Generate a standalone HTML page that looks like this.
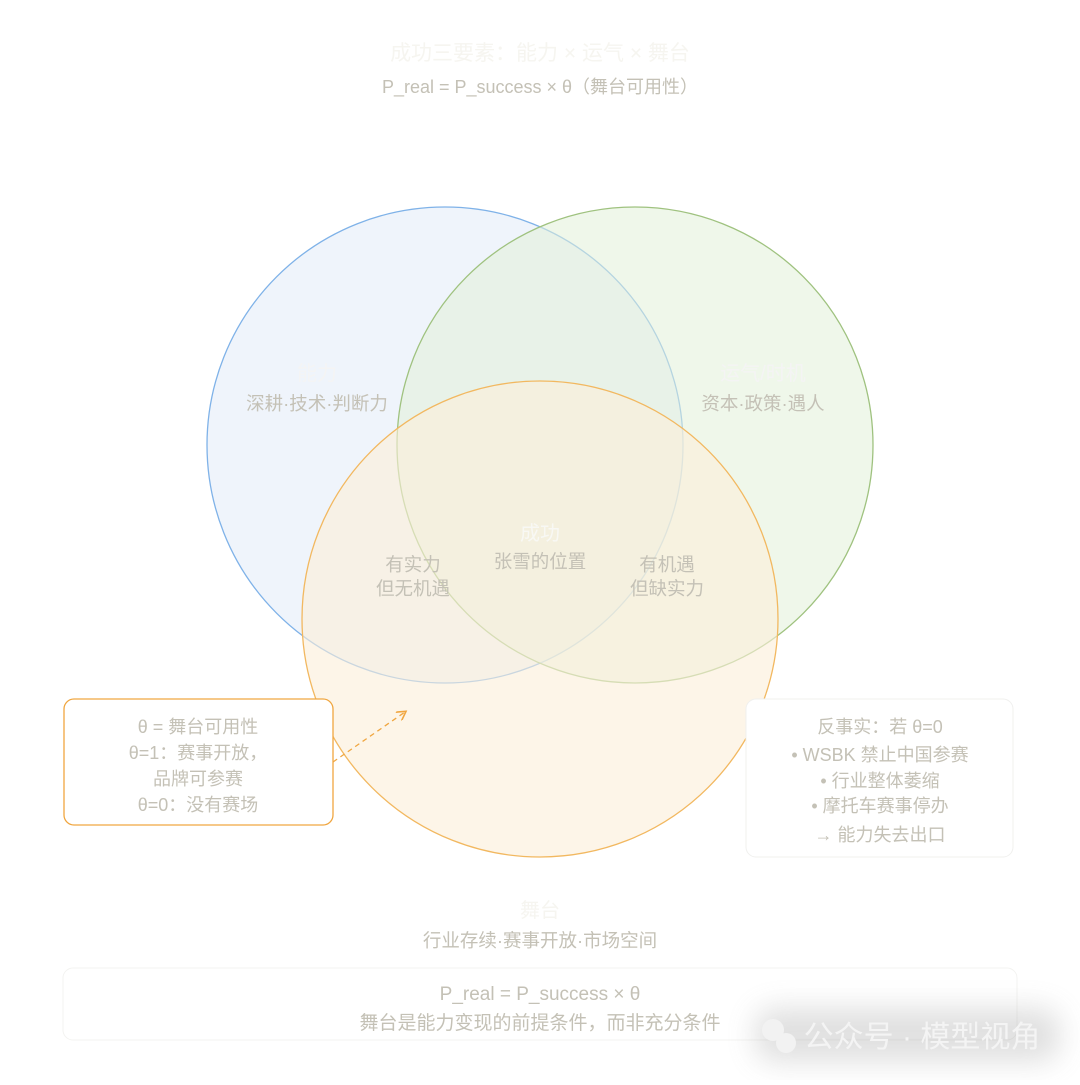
<!DOCTYPE html>
<html><head><meta charset="utf-8"><style>
body{margin:0;background:#fff;}
svg text{font-family:"Liberation Sans","Noto Sans CJK SC",sans-serif;text-anchor:middle;}
</style></head><body>
<svg width="1080" height="1080" xmlns="http://www.w3.org/2000/svg">
<defs><filter id="b" x="-30%" y="-80%" width="160%" height="260%"><feGaussianBlur stdDeviation="14"/></filter>
<marker id="a" markerWidth="8" markerHeight="8" refX="6" refY="4" orient="auto"><path d="M0,0 L7,4 L0,8" fill="none" stroke="#f0a640" stroke-width="1.2"/></marker></defs>
<rect width="1080" height="1080" fill="#fff"/>
<text x="540" y="60" font-size="21" fill="#f6f5f0">成功三要素：能力 × 运气 × 舞台</text>
<text x="540" y="93" font-size="18" fill="#c4c1b6">P_real = P_success × θ（舞台可用性）</text>
<circle cx="445" cy="445" r="238" fill="#e6eef9" fill-opacity="0.65" stroke="#7fb2e8" stroke-width="1.3"/>
<circle cx="635" cy="445" r="238" fill="#e2f0d8" fill-opacity="0.55" stroke="#9fc27f" stroke-width="1.3"/>
<circle cx="540" cy="619" r="238" fill="#fbefd8" fill-opacity="0.6" stroke="#f2b860" stroke-width="1.3"/>
<g font-size="18.5" fill="#c4c1b6">
<text x="317" y="380" font-size="20" fill="#f4f4f4">能力</text>
<text x="317" y="410">深耕·技术·判断力</text>
<text x="763" y="380" font-size="20" fill="#f4f4f4">运气/时机</text>
<text x="763" y="410">资本·政策·遇人</text>
<text x="540" y="540" font-size="20" fill="#f8f8f4">成功</text>
<text x="540" y="568">张雪的位置</text>
<text x="413" y="571">有实力</text>
<text x="413" y="595">但无机遇</text>
<text x="667" y="571">有机遇</text>
<text x="667" y="595">但缺实力</text>
<text x="540" y="917" font-size="20" fill="#f6f5f0">舞台</text>
<text x="540" y="947" font-size="18.5">行业存续·赛事开放·市场空间</text>
</g>
<rect x="64" y="699" width="269" height="126" rx="10" fill="#fff" stroke="#f0a640" stroke-width="1.3"/>
<g font-size="18" fill="#c4c1b6">
<text x="198" y="733">θ = 舞台可用性</text>
<text x="198" y="759">θ=1：赛事开放，</text>
<text x="198" y="785">品牌可参赛</text>
<text x="198" y="811">θ=0：没有赛场</text>
</g>
<line x1="333" y1="762" x2="405" y2="712" stroke="#f0a640" stroke-width="1.3" stroke-dasharray="5,4" marker-end="url(#a)"/>
<rect x="746" y="699" width="267" height="158" rx="10" fill="#fff" stroke="#f0f0ee" stroke-width="1"/>
<g font-size="18" fill="#c4c1b6">
<text x="880" y="733">反事实：若 θ=0</text>
<text x="880" y="761">• WSBK 禁止中国参赛</text>
<text x="880" y="787">• 行业整体萎缩</text>
<text x="880" y="812">• 摩托车赛事停办</text>
<text x="880" y="841">→ 能力失去出口</text>
</g>
<rect x="63" y="968" width="954" height="72" rx="10" fill="#fff" stroke="#f3f3f1" stroke-width="1"/>
<g font-size="19" fill="#c4c1b6">
<text x="540" y="1000">P_real = P_success × θ</text>
<text x="540" y="1029">舞台是能力变现的前提条件，而非充分条件</text>
</g>
<rect x="755" y="1008" width="305" height="54" rx="20" fill="#999" opacity="0.3" filter="url(#b)"/>
<circle cx="773" cy="1030" r="11" fill="#f2f2f2"/><circle cx="786" cy="1043" r="10" fill="#f2f2f2"/>
<text x="922" y="1047" font-size="30" fill="#f4f4f4">公众号 · 模型视角</text>
</svg>
</body></html>
